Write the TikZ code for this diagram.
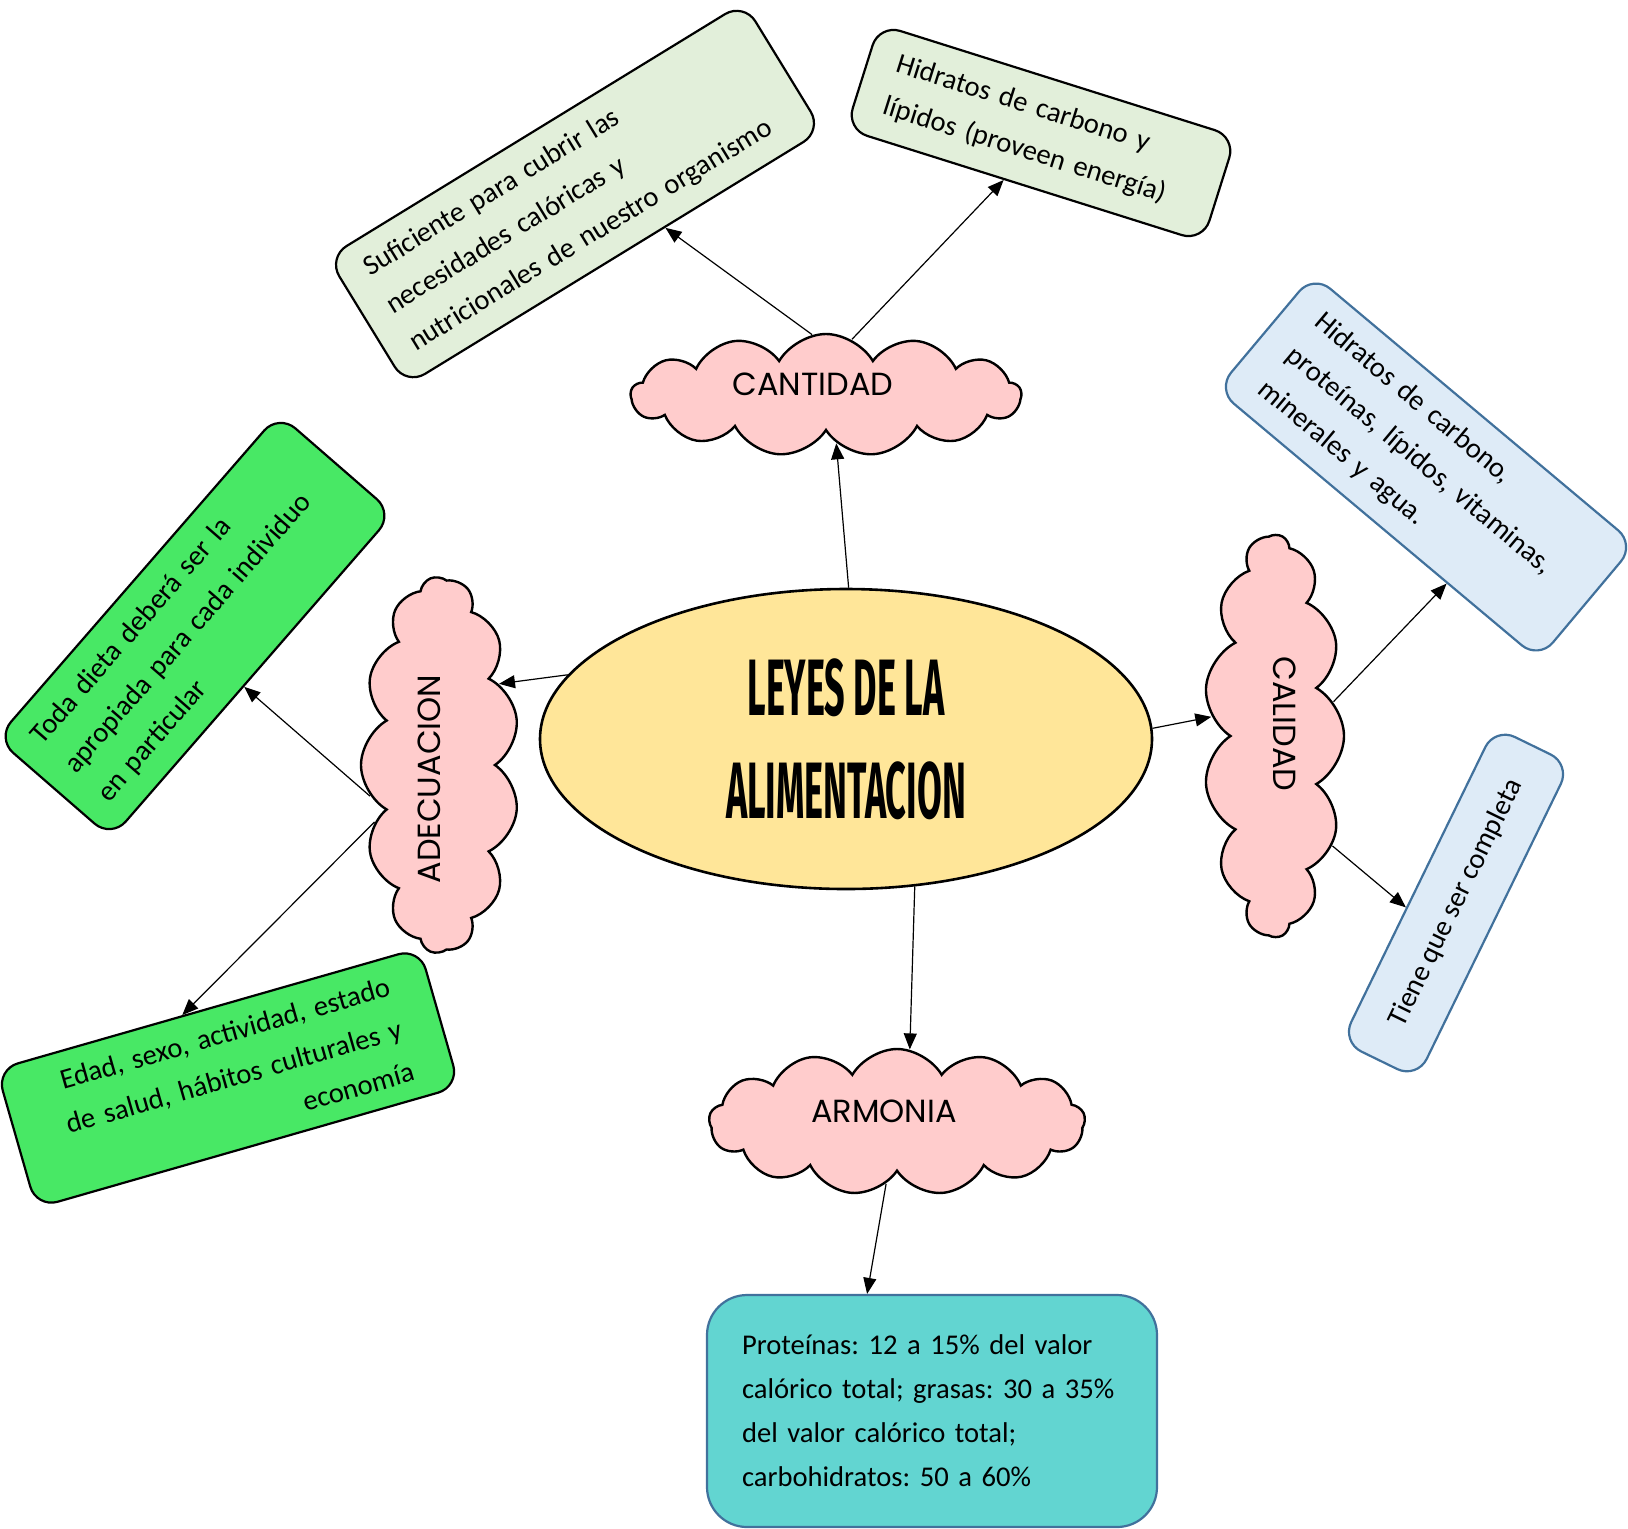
\documentclass[tikz,border=0pt]{standalone}
\usepackage{fontspec}
\usepackage{graphicx}
\setmainfont{Carlito}
\newfontfamily\cloudfont{Poppins}
\newfontfamily\titlefont{Fira Sans}
\usetikzlibrary{positioning,calc,arrows,arrows.meta,shapes.geometric,shapes.symbols}
\tikzset{font=\fontsize{14.3}{22}\selectfont}
\frenchspacing

\definecolor{sunyellow}{HTML}{FFE699}
\definecolor{cloudpink}{HTML}{FFCCCC}
\definecolor{palegreen}{HTML}{E2EFDA}
\definecolor{paleblue}{HTML}{DEEBF7}
\definecolor{edgeblue}{HTML}{41719C}
\definecolor{brightgreen}{HTML}{48E865}
\definecolor{aquabox}{HTML}{62D5D1}

\begin{document}
\begin{tikzpicture}[x=0.5pt, y=-0.5pt, >={Triangle[length=8pt,width=6.5pt]}, line width=0.6pt]
	\useasboundingbox (0,0) rectangle (1628,1528);
	\begin{scope}
		\tikzstyle{cloudnode}=[cloud, cloud puffs=13, cloud puff arc=120, cloud ignores aspect, draw, fill=cloudpink, line width=1.2pt, inner sep=0pt, text depth=11pt, font=\cloudfont\fontsize{16}{18}\selectfont]
		\tikzstyle{textbox}=[draw, rounded corners=11pt, line width=1.1pt, align=left, inner sep=4pt]

		% centro
		\node[ellipse, draw, fill=sunyellow, line width=1.3pt, minimum width=306pt, minimum height=150pt, inner sep=0pt, align=center,
			font=\titlefont\bfseries\fontsize{40}{51.5}\selectfont] (leyes) at (846,739)
			{\scalebox{0.45}[1]{LEYES DE LA}\\\scalebox{0.45}[1]{ALIMENTACION}};

		% nubes
		\node[cloudnode, minimum width=195pt, minimum height=61pt] (cantidad) at (826,395) {CANTIDAD\kern13pt};
		\node[cloudnode, rotate=90, minimum width=188pt, minimum height=79pt] (adecua) at (440,765) {ADECUACION\kern14pt};
		\node[cloudnode, rotate=-90, minimum width=201pt, minimum height=70pt] (calidad) at (1274,736) {CALIDAD\kern12pt};
		\node[cloudnode, minimum width=188pt, minimum height=73pt] (armonia) at (897,1122) {ARMONIA\kern13pt};

		% cuadros
		\node[textbox, fill=palegreen, rotate=31.5, minimum width=244pt, minimum height=75pt, text width=218pt] (suficiente) at (575,194)
			{Suficiente para cubrir las\\necesidades calóricas y\\nutricionales de nuestro organismo};
		\node[textbox, fill=palegreen, rotate=-17.5, minimum width=187pt, minimum height=55pt, text width=158pt] (hidratos) at (1041,133)
			{Hidratos de carbono y\\lípidos (proveen energía)};
		\node[textbox, fill=paleblue, draw=edgeblue, rotate=-40, minimum width=210pt, minimum height=75pt, text width=178pt] (nutrientes) at (1426,467)
			{Hidratos de carbono,\\proteínas, lípidos, vitaminas,\\minerales y agua.};
		\node[textbox, fill=paleblue, draw=edgeblue, rotate=64, minimum width=175pt, minimum height=42pt] (completa) at (1456,903)
			{Tiene que ser completa};
		\node[textbox, fill=brightgreen, rotate=49, minimum width=215pt, minimum height=76pt, text width=190pt] (dieta) at (195,626)
			{Toda dieta deberá ser la\\apropiada para cada individuo\\en particular};
		\node[textbox, fill=brightgreen, rotate=16, minimum width=220pt, minimum height=72pt, text width=180pt, align=right] (factores) at (228,1078)
			{Edad, sexo, actividad, estado\\de salud, hábitos culturales y\\economía};
		\node[textbox, fill=aquabox, draw=edgeblue, rounded corners=20pt, minimum width=225pt, minimum height=116pt, text width=190pt] (valores) at (932,1411)
			{Proteínas: 12 a 15\% del valor\\calórico total; grasas: 30 a 35\%\\del valor calórico total;\\carbohidratos: 50 a 60\%};

		% flechas
		\draw[->] (leyes.89)     -- (cantidad.-78);
		\draw[->] (cantidad.103) -- (suficiente.-52);
		\draw[->] (cantidad.65)  -- (hidratos.-111);
		\draw[->] (leyes.167)    -- (adecua.-36);
		\draw[->] (adecua.114)   -- (dieta.-100);
		\draw[->] (adecua.131)   -- (factores.110);
		\draw[->] (leyes.2)      -- (calidad.-107);
		\draw[->] (calidad.120)  -- (nutrientes.-40);
		\draw[->] (calidad.28)   -- (completa.121);
		\draw[->] (leyes.-65)    -- (armonia.80);
		\draw[->] (armonia.-100) -- (valores.119);
	\end{scope}
\end{tikzpicture}
\end{document}
